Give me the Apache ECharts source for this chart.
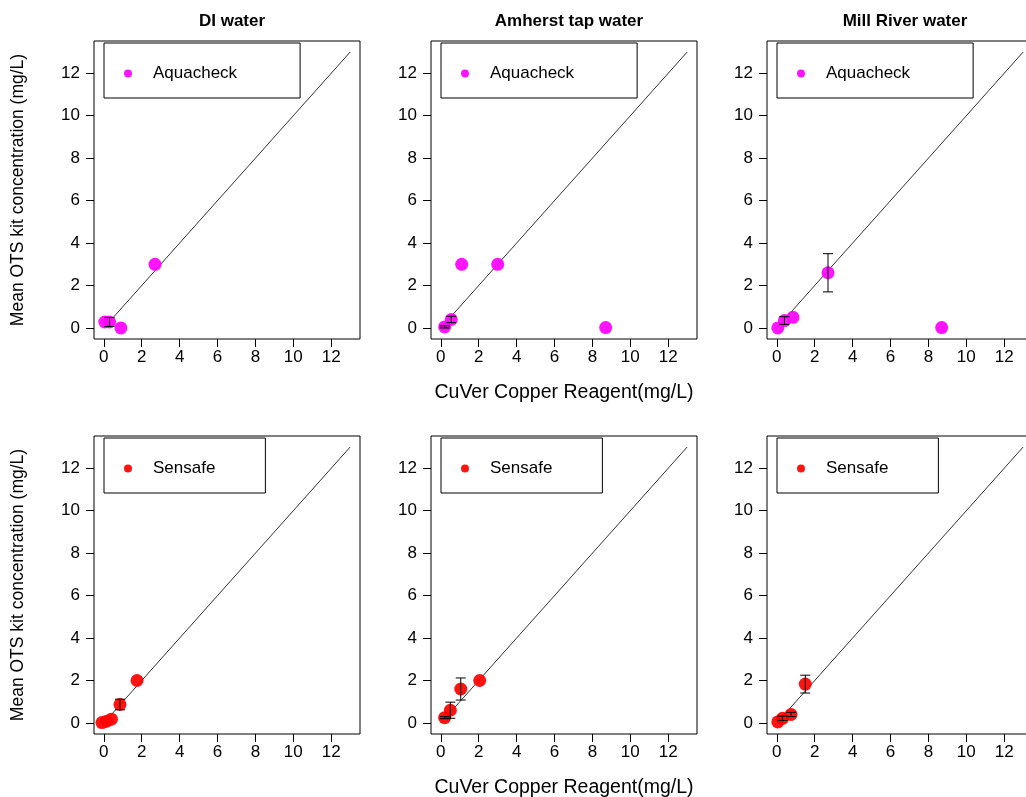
<!DOCTYPE html>
<html><head><meta charset="utf-8">
<script src="https://cdn.jsdelivr.net/npm/echarts@6/dist/echarts.min.js"></script>
<style>html,body{margin:0;padding:0;background:#fff}#c{width:1026px;height:797px}</style>
</head><body><div id="c"></div>
<script>
// ---- data ----
const panelTitles = ['DI water', 'Amherst tap water', 'Mill River water'];
const kitNames = ['Aquacheck', 'Sensafe'];
const tickValues = [0, 2, 4, 6, 8, 10, 12];
const refLine = [[0, 0], [13, 13]];
const xTitle = 'CuVer Copper Reagent(mg/L)';
const yTitle = 'Mean OTS kit concentration (mg/L)';

// Aquacheck (top row)
const aquaDI_x = [0.05, 0.3, 0.9, 2.7];
const aquaDI_y = [0.28, 0.28, 0.0, 3.0];
const aquaDI_err = [0, 0.21, 0, 0];
const aquaTap_x = [0.2, 0.55, 1.1, 3.0, 8.7];
const aquaTap_y = [0.05, 0.4, 3.0, 3.0, 0.02];
const aquaTap_err = [0.05, 0.15, 0, 0, 0];
const aquaMill_x = [0.05, 0.4, 0.85, 2.7, 8.7];
const aquaMill_y = [0.0, 0.35, 0.5, 2.6, 0.02];
const aquaMill_err = [0, 0.18, 0, 0.9, 0];

// Sensafe (bottom row)
const sensDI_x = [-0.1, 0.15, 0.4, 0.85, 1.75];
const sensDI_y = [0.02, 0.08, 0.18, 0.87, 2.0];
const sensDI_err = [0, 0, 0, 0.25, 0];
const sensTap_x = [0.2, 0.5, 1.05, 2.05];
const sensTap_y = [0.25, 0.6, 1.6, 2.0];
const sensTap_err = [0.05, 0.38, 0.52, 0];
const sensMill_x = [0.05, 0.3, 0.75, 1.5];
const sensMill_y = [0.05, 0.22, 0.4, 1.83];
const sensMill_err = [0, 0.1, 0.1, 0.42];

const panels = [
  {row: 0, col: 0, kit: 0, x: aquaDI_x, y: aquaDI_y, e: aquaDI_err},
  {row: 0, col: 1, kit: 0, x: aquaTap_x, y: aquaTap_y, e: aquaTap_err},
  {row: 0, col: 2, kit: 0, x: aquaMill_x, y: aquaMill_y, e: aquaMill_err},
  {row: 1, col: 0, kit: 1, x: sensDI_x, y: sensDI_y, e: sensDI_err},
  {row: 1, col: 1, kit: 1, x: sensTap_x, y: sensTap_y, e: sensTap_err},
  {row: 1, col: 2, kit: 1, x: sensMill_x, y: sensMill_y, e: sensMill_err}
];

// ---- layout / style ----
const FONT = 'Liberation Sans, Arial, sans-serif';
const kitColors = ['#ff00ff', '#ff0000'];
const lefts = [94, 431, 767];
const tops = [41, 436];
const W = 266, H = 298;
const AX_MIN = -0.52, AX_MAX = 13.52;
const legendPad = [[22, 63, 16, 20], [22, 50, 16, 20]];

const grid = [], xAxis = [], yAxis = [], series = [], legend = [], title = [];
panels.forEach((p, i) => {
  grid.push({left: lefts[p.col], top: tops[p.row], width: W, height: H,
    outerBoundsMode: 'none', containLabel: false,
    show: true, borderColor: '#000', borderWidth: 1, backgroundColor: 'transparent'});
  const showXName = p.col === 1;
  xAxis.push({type: 'value', gridIndex: i, min: AX_MIN, max: AX_MAX, position: 'bottom',
    axisLine: {show: false, onZero: false}, splitLine: {show: false},
    axisTick: {show: true, inside: false, customValues: tickValues, length: 8, lineStyle: {color: '#000', width: 1}},
    axisLabel: {customValues: tickValues, fontSize: 17, color: '#000', fontFamily: FONT, margin: 10},
    name: showXName ? xTitle : '', nameLocation: 'middle', nameGap: 44,
    nameTextStyle: {fontSize: 19.5, color: '#000', fontFamily: FONT}});
  const showYName = p.col === 0;
  yAxis.push({type: 'value', gridIndex: i, min: AX_MIN, max: AX_MAX, position: 'left',
    axisLine: {show: false, onZero: false}, splitLine: {show: false},
    axisTick: {show: true, inside: false, customValues: tickValues, length: 8, lineStyle: {color: '#000', width: 1}},
    axisLabel: {customValues: tickValues, fontSize: 17, color: '#000', fontFamily: FONT, margin: 14},
    name: showYName ? yTitle : '', nameLocation: 'middle', nameGap: 67, nameRotate: 90,
    nameTextStyle: {fontSize: 17.5, color: '#000', fontFamily: FONT}});
  // reference 1:1 line
  series.push({type: 'line', xAxisIndex: i, yAxisIndex: i, data: refLine, symbol: 'none',
    silent: true, lineStyle: {color: '#000', width: 0.8}, z: 1});
  // points
  series.push({type: 'scatter', name: kitNames[p.kit], xAxisIndex: i, yAxisIndex: i,
    data: p.x.map((v, k) => [v, p.y[k]]), symbol: 'circle', symbolSize: 13,
    itemStyle: {color: kitColors[p.kit], opacity: 0.92}, z: 2});
  // error bars
  series.push({type: 'custom', xAxisIndex: i, yAxisIndex: i, silent: true, z: 3,
    data: p.x.map((v, k) => [v, p.y[k], p.e[k]]).filter(d => d[2] > 0),
    renderItem: function (params, api) {
      const x = api.value(0), y = api.value(1), e = api.value(2);
      const hi = api.coord([x, y + e]), lo = api.coord([x, y - e]);
      const cw = 5;
      const st = {stroke: '#000', lineWidth: 1};
      return {type: 'group', children: [
        {type: 'line', shape: {x1: hi[0], y1: hi[1], x2: lo[0], y2: lo[1]}, style: st},
        {type: 'line', shape: {x1: hi[0] - cw, y1: hi[1], x2: hi[0] + cw, y2: hi[1]}, style: st},
        {type: 'line', shape: {x1: lo[0] - cw, y1: lo[1], x2: lo[0] + cw, y2: lo[1]}, style: st}
      ]};
    }});
  legend.push({left: lefts[p.col] + 10, top: tops[p.row] + 2, orient: 'vertical',
    data: [kitNames[p.kit]], selectedMode: false, icon: 'circle', itemWidth: 8, itemHeight: 8,
    borderColor: '#000', borderWidth: 1, borderRadius: 0, padding: legendPad[p.kit],
    backgroundColor: '#fff',
    textStyle: {fontSize: 17, color: '#000', fontFamily: FONT, padding: [0, 0, 0, 16]}});
});
panelTitles.forEach((t, c) => {
  title.push({text: t, left: lefts[c] + W / 2, top: 8, textAlign: 'center',
    textStyle: {fontSize: 17, fontWeight: 'bold', color: '#000', fontFamily: FONT}});
});

const chart = echarts.init(document.getElementById('c'), null, {renderer: 'canvas'});
chart.setOption({animation: false, backgroundColor: '#fff', title, grid, xAxis, yAxis, legend, series});
</script>
</body></html>
